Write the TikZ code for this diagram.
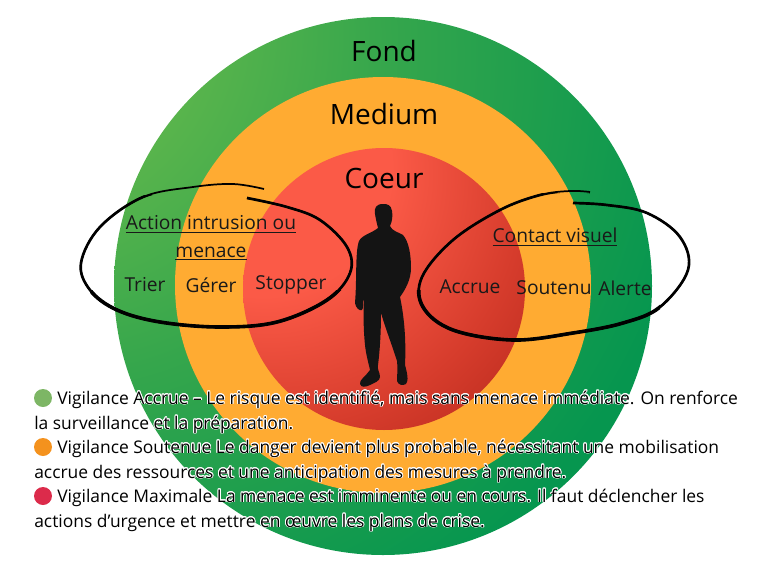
\documentclass[tikz,border=0pt]{standalone}
\usepackage{fontspec}
\usepackage[copies]{contour}
\setmainfont{Open Sans}
\contourlength{0.6pt}
\newcommand{\halo}[1]{\contour{white}{#1}}
\newcommand{\boucleg}{plot[smooth,tension=0.6] coordinates {(264,189) (233,184) (193,187) (143,197) (100,227) (81,263) (90,290) (117,310) (160,322) (220,327) (277,322) (327,300) (350,273) (347,247) (320,220) (287,207) (247,198)}}
\newcommand{\boucled}{plot[smooth,tension=0.6] coordinates {(590,192) (570,191) (540,195) (500,210) (453,240) (422,277) (423,307) (453,330) (513,340) (573,333) (623,323) (660,307) (688,270) (680,237) (647,213) (607,205) (573,203)}}
\definecolor{fondlight}{HTML}{62B84C}
\definecolor{fondmid}{HTML}{35A64C}
\definecolor{fonddark}{HTML}{06964F}
\definecolor{mediumcol}{HTML}{FFAB32}
\definecolor{coeurlight}{HTML}{FB5A47}
\definecolor{coeurmid}{HTML}{D63C2C}
\definecolor{coeurdark}{HTML}{A01A10}
\definecolor{dotgreen}{HTML}{7DB665}
\definecolor{dotorange}{HTML}{F4921E}
\definecolor{dotred}{HTML}{DC2B4B}
\pgfdeclareradialshading{fondshade}{\pgfpoint{-1.39cm}{1.02cm}}{
  color(0cm)=(fondlight); color(0.5cm)=(fondlight); color(1.1cm)=(fondmid); color(1.9cm)=(fonddark); color(5cm)=(fonddark)}
\pgfdeclareradialshading{coeurshade}{\pgfpoint{-0.9cm}{0.9cm}}{
  color(0cm)=(coeurlight); color(0.8cm)=(coeurlight); color(1.5cm)=(coeurmid); color(2.4cm)=(coeurdark); color(5cm)=(coeurdark)}
\tikzset{
  zone/.style={circle,inner sep=0pt,outer sep=0pt},
  titre/.style={font=\fontsize{21}{24}\selectfont,inner sep=0pt},
  mot/.style={font=\fontsize{14.4}{19}\selectfont,inner sep=0pt,text=black!90},
  dot/.style={circle,inner sep=0pt,minimum size=13.5pt},
  legende/.style={font=\fontsize{13.07}{16}\selectfont,inner sep=0pt,anchor=base west,text=black},
}
\begin{document}
\begin{tikzpicture}[x=0.75pt,y=-0.75pt]
\useasboundingbox (0,0) rectangle (768,575);
% les trois zones
\node[zone,minimum size=403.5pt,shading=fondshade] (fond) at (383,286) {};
\node[zone,minimum size=312pt,fill=mediumcol] (medium) at (383,285) {};
\node[zone,minimum size=211.5pt,shading=coeurshade] (coeur) at (384,289) {};
\node[titre] (tfond) at (384,51) {Fond};
\node[titre] (tmedium) at (384,114) {Medium};
\node[titre] (tcoeur) at (384,178) {Coeur};
% silhouette
\fill[black!92] (383,204) .. controls (376,204) and (374,208) .. (375,214)
  .. controls (376,220) and (377,224) .. (378,228)
  .. controls (372,233) and (362,235) .. (359,241)
  .. controls (355,252) and (357,280) .. (355,303)
  .. controls (356,308) and (359,311) .. (362,310)
  .. controls (364,308) and (362,303) .. (364,298)
  .. controls (363,320) and (364,335) .. (365,345)
  .. controls (366,355) and (369,365) .. (370,370)
  .. controls (366,376) and (359,380) .. (360,384)
  .. controls (361,388) and (366,387) .. (370,385)
  .. controls (374,383) and (380,381) .. (380,377)
  .. controls (380,372) and (377,370) .. (378,365)
  .. controls (380,350) and (381,330) .. (381,313)
  .. controls (386,330) and (392,345) .. (397,361)
  .. controls (398,368) and (397,375) .. (397,381)
  .. controls (398,385) and (403,386) .. (406,384)
  .. controls (409,381) and (407,372) .. (405,365)
  .. controls (406,345) and (405,320) .. (400,297)
  .. controls (405,290) and (411,280) .. (411,268)
  .. controls (411,255) and (409,242) .. (403,235)
  .. controls (398,232) and (392,231) .. (390,226)
  .. controls (392,222) and (393,216) .. (392,211)
  .. controls (391,205) and (388,204) .. (383,204) -- cycle;
% cercles a main levee
\draw[line width=1.3pt] \boucleg;
\draw[line width=1.3pt] \boucled;
\begin{scope}
  \clip (70,195) rectangle (300,340) (300,203) rectangle (365,340);
  \draw[line width=2pt] \boucleg;
\end{scope}
\begin{scope}
  \clip (90,290) rectangle (360,340);
  \draw[line width=2.7pt] \boucleg;
\end{scope}
\begin{scope}
  \clip (410,193) rectangle (700,345);
  \draw[line width=2pt] \boucled;
\end{scope}
\begin{scope}
  \clip (415,290) rectangle (660,345);
  \draw[line width=2.7pt] \boucled;
\end{scope}
% textes
\node[mot,align=center] (action) at (211,238) {\underline{Action intrusion ou}\\[1.5pt]\underline{menace}};
\node[mot] (trier) at (145,285) {Trier};
\node[mot] (gerer) at (211,285) {Gérer};
\node[mot] (stopper) at (291,285) {Stopper};
\node[mot] (contact) at (555,237) {\underline{Contact visuel}};
\node[mot] (accrue) at (470,287) {Accrue};
\node[mot] (soutenu) at (554,288) {Soutenu};
\node[mot] (alerte) at (625,288) {Alerte};
% legende
\node[dot,fill=dotgreen] (dvert) at (43,398) {};
\node[dot,fill=dotorange] (dorange) at (43,447) {};
\node[dot,fill=dotred] (drouge) at (43,496) {};
\node[legende] (l1) at (57,404) {\halo{Vigilance Accrue – Le risque est identifié, mais sans menace immédiate. On renforce}};
\node[legende] (l2) at (34,429) {\halo{la surveillance et la préparation.}};
\node[legende] (l3) at (57,453) {\halo{Vigilance Soutenue Le danger devient plus probable, nécessitant une mobilisation}};
\node[legende] (l4) at (34,478) {\halo{accrue des ressources et une anticipation des mesures à prendre.}};
\node[legende] (l5) at (57,502) {\halo{Vigilance Maximale La menace est imminente ou en cours. Il faut déclencher les}};
\node[legende] (l6) at (34,527) {\halo{actions d’urgence et mettre en œuvre les plans de crise.}};
\end{tikzpicture}
\end{document}
